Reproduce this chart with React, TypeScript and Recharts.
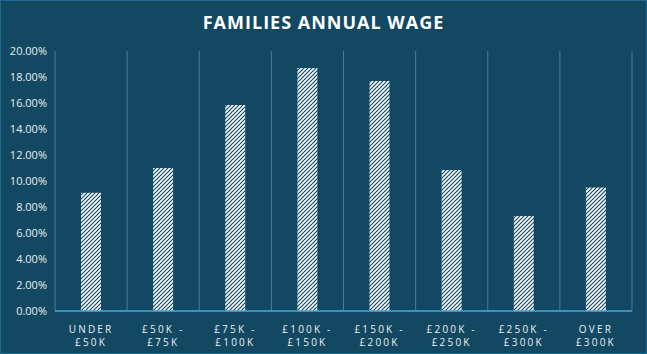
import React from 'react'
import { BarChart, Bar, XAxis, YAxis, CartesianGrid } from 'recharts'

const CATEGORIES = ['UNDER|£50K', '£50K -|£75K', '£75K -|£100K', '£100K -|£150K', '£150K -|£200K', '£200K -|£250K', '£250K -|£300K', 'OVER|£300K']
const SHARES = [0.091, 0.11, 0.1585, 0.187, 0.177, 0.1085, 0.073, 0.095]
const Y_TICKS = [0, 0.02, 0.04, 0.06, 0.08, 0.1, 0.12, 0.14, 0.16, 0.18, 0.2]

const BG = '#124862'
const TEXT = '#e9eef2'

const data = CATEGORIES.map((c, i) => ({ name: c, value: SHARES[i] }))

function CategoryTick(props: any) {
  const { x, y, payload } = props
  const lines = String(payload.value).split('|')
  return (
    <g transform={`translate(${x},${y})`}>
      {lines.map((l, i) => (
        <text
          key={i}
          x={0}
          y={14 + i * 13}
          textAnchor="middle"
          fill={TEXT}
          fontSize={10}
          letterSpacing={2.2}
          fontFamily="'Open Sans', sans-serif"
        >
          {l}
        </text>
      ))}
    </g>
  )
}

// grid lines sit on category boundaries, not centres
const boundaryLines = ({ offset }: any) =>
  CATEGORIES.map((_, i) => offset.left + (offset.width * i) / CATEGORIES.length).concat(offset.left + offset.width)

export default function App() {
  return (
    <div style={{ position: 'absolute', left: 0, top: 0, width: 647, height: 354, background: BG, boxSizing: 'border-box', border: '1px solid #1d6a8e' }}>
      <svg width={0} height={0} style={{ position: 'absolute' }}>
        <defs>
          <pattern id="hatch" patternUnits="userSpaceOnUse" width={4} height={4}>
            <rect width={4} height={4} fill="#ffffff" />
            <path d="M-1,1 l2,-2 M0,4 l4,-4 M3,5 l2,-2" stroke={BG} strokeWidth={1.2} />
          </pattern>
        </defs>
      </svg>
      <div
        style={{
          position: 'absolute',
          top: 9,
          width: '100%',
          textAlign: 'center',
          color: '#ffffff',
          fontFamily: "'Open Sans', sans-serif",
          fontWeight: 700,
          fontSize: 18,
          letterSpacing: 1,
        }}
      >
        FAMILIES ANNUAL WAGE
      </div>
      <div style={{ position: 'absolute', left: -1, top: -1 }}>
        <BarChart width={647} height={354} data={data} margin={{ top: 51, right: 15, bottom: 0, left: 0 }}>
          <CartesianGrid vertical horizontal={false} stroke="#4f7a90" verticalCoordinatesGenerator={boundaryLines} />
          <XAxis
            dataKey="name"
            interval={0}
            height={43}
            tick={<CategoryTick />}
            tickLine={false}
            axisLine={{ stroke: '#4aa8dc', strokeWidth: 1.5 }}
          />
          <YAxis
            width={55}
            domain={[0, 0.2]}
            ticks={Y_TICKS}
            tickFormatter={(v: number) => `${(v * 100).toFixed(2)}%`}
            tick={{ fill: TEXT, fontSize: 11, fontFamily: "'Open Sans', sans-serif" }}
            tickLine={false}
            axisLine={false}
            tickMargin={2}
          />
          <Bar dataKey="value" fill="url(#hatch)" barSize={20} isAnimationActive={false} />
        </BarChart>
      </div>
    </div>
  )
}
